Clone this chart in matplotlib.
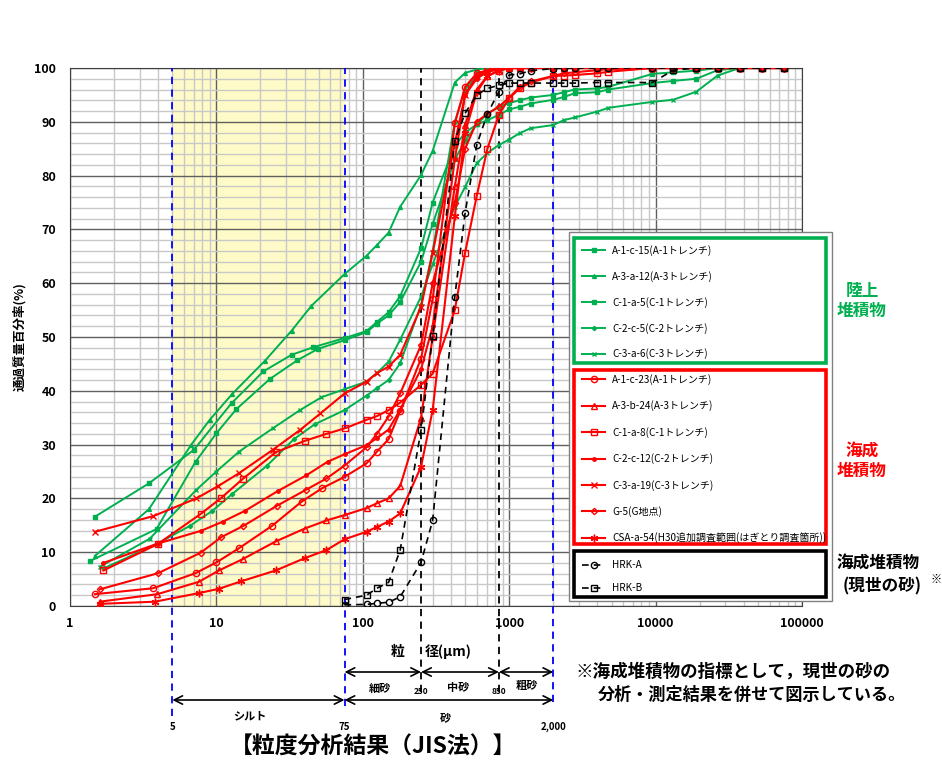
import matplotlib.pyplot as plt
from matplotlib.patches import Rectangle
from matplotlib.ticker import MultipleLocator, LogLocator, NullFormatter

plt.rcParams['font.family'] = ['Noto Sans CJK JP', 'DejaVu Sans']

# ---------------- data (grain size in micrometres, passing %) ----------------
sieve = [75, 106, 125, 150, 180, 250, 300, 425, 500, 600, 710, 850, 1000,
         1180, 1400, 2000, 2360, 2800, 4000, 4750, 9500, 13200, 19000,
         26500, 37500, 53000, 75000]

# green : land deposits
a1c15_hx = [1.48, 3.46, 7.0, 12.7, 20.9, 32.7, 45.9]
a1c15_hy = [16.6, 22.8, 29.0, 37.7, 43.6, 46.7, 48.1]
a1c15_sy = [49.8, 51.1, 52.8, 54.6, 57.6, 66.5, 75.0, 85.5, 88.0, 89.5, 90.3, 91.3,
            92.3, 92.8, 93.4, 94.1, 94.6, 95.3, 95.5, 96.0, 97.2, 97.6, 98.0, 99.6,
            100, 100, 100]

a3a12_hx = [1.48, 3.46, 6.7, 9.0, 12.8, 21.5, 32.7, 44.6]
a3a12_hy = [9.3, 18.0, 29.9, 34.6, 39.4, 45.6, 51.2, 55.8]
a3a12_sy = [61.7, 65.1, 67.1, 69.4, 74.2, 80.1, 84.6, 97.3, 99.1, 99.7, 100, 100,
            100, 100, 100, 100, 100, 100, 100, 100, 100, 100, 100, 100, 100, 100, 100]

c1a5_hx = [1.38, 3.9, 7.2, 10.0, 13.7, 23.2, 35.8, 49.5]
c1a5_hy = [8.4, 14.3, 26.8, 32.1, 36.6, 42.2, 45.7, 47.8]
c1a5_sy = [49.4, 50.9, 52.5, 54.0, 56.5, 64.0, 71.0, 83.0, 86.5, 89.5, 91.5, 92.8,
           93.5, 94.0, 94.5, 95.0, 95.5, 96.0, 96.2, 96.5, 98.9, 99.2, 99.5, 100,
           100, 100, 100]

c2c5_hx = [1.7, 3.9, 6.6, 9.4, 12.8, 22.0, 33.8, 47.1]
c2c5_hy = [7.0, 11.5, 14.9, 17.7, 20.8, 26.0, 31.0, 33.8]
c2c5_sy = [36.4, 39.1, 40.5, 42.0, 45.1, 56.0, 66.0, 90.0, 96.0, 98.6, 99.5, 100,
           100, 100, 100, 100, 100, 100, 100, 100, 100, 100, 100, 100, 100, 100, 100]

c3a6_hx = [1.6, 3.5, 7.3, 10.0, 14.3, 24.2, 37.2, 52.2]
c3a6_hy = [7.3, 12.5, 21.6, 25.0, 28.7, 33.0, 36.4, 38.8]
c3a6_sy = [40.3, 41.7, 43.3, 45.4, 49.5, 57.5, 63.5, 74.2, 77.9, 82.3, 84.2, 85.7,
           86.7, 87.9, 88.8, 89.4, 90.3, 90.8, 91.9, 92.6, 93.7, 94.1, 95.6, 98.6,
           100, 100, 100]

# red : marine deposits
a1c23_hx = [1.48, 3.7, 7.2, 10.0, 14.2, 24.0, 38.2, 52.8]
a1c23_hy = [2.2, 3.3, 6.1, 8.1, 10.7, 14.9, 19.4, 21.9]
a1c23_sy = [24.0, 26.5, 28.7, 31.0, 36.2, 46.0, 57.0, 89.7, 96.5, 99.0, 99.6, 100,
            100, 100, 100, 100, 100, 100, 100, 100, 100, 100, 100, 100, 100, 100, 100]

a3b24_hx = [1.6, 3.95, 7.6, 10.4, 15.1, 25.4, 40.2, 56.5]
a3b24_hy = [0.8, 2.2, 4.5, 6.6, 8.7, 12.0, 14.4, 15.9]
a3b24_sy = [16.9, 18.2, 19.1, 20.0, 22.3, 35.0, 50.0, 78.0, 89.4, 96.0, 98.5, 99.5,
            100, 100, 100, 100, 100, 100, 100, 100, 100, 100, 100, 100, 100, 100, 100]

c1a8_hx = [1.69, 3.97, 7.8, 10.8, 15.1, 25.5, 40.2, 56.5]
c1a8_hy = [6.6, 11.5, 17.1, 20.1, 23.6, 28.6, 30.7, 32.0]
c1a8_sy = [33.0, 34.6, 35.3, 36.4, 37.8, 41.1, 43.2, 55.0, 65.7, 76.2, 85.0, 91.3,
           94.4, 96.2, 97.3, 98.5, 98.6, 98.7, 99.0, 99.3, 100, 100, 100, 100, 100,
           100, 100]

c2c12_hx = [1.69, 3.97, 7.9, 11.1, 15.7, 26.4, 41.2, 57.4]
c2c12_hy = [8.0, 11.6, 14.0, 15.7, 17.7, 21.4, 24.3, 26.8]
c2c12_sy = [28.2, 29.9, 31.2, 32.8, 36.5, 44.0, 52.0, 83.0, 95.0, 98.0, 99.3, 99.7,
            100, 100, 100, 100, 100, 100, 100, 100, 100, 100, 100, 100, 100, 100, 100]

c3a19_hx = [1.48, 3.7, 7.3, 10.3, 14.3, 24.2, 37.2, 51.4]
c3a19_hy = [13.8, 16.7, 20.0, 22.3, 24.7, 29.0, 32.7, 35.8]
c3a19_sy = [39.5, 41.7, 43.3, 44.5, 46.7, 55.6, 65.6, 86.0, 95.0, 98.5, 99.5, 100,
            100, 100, 100, 100, 100, 100, 100, 100, 100, 100, 100, 100, 100, 100, 100]

g5_hx = [1.6, 4.0, 7.8, 10.8, 15.3, 25.8, 40.9, 56.5]
g5_hy = [3.1, 6.1, 9.9, 12.8, 14.9, 18.6, 21.6, 23.7]
g5_sy = [26.1, 29.5, 32.0, 35.2, 39.5, 48.5, 60.0, 75.0, 85.0, 90.0, 91.5, 92.8,
         94.5, 96.5, 97.5, 98.5, 99.0, 99.2, 99.6, 99.8, 100, 100, 100, 100, 100,
         100, 100]

csa54_hx = [1.6, 3.8, 7.6, 10.4, 14.8, 25.4, 40.2, 56.5]
csa54_hy = [0.4, 0.8, 2.4, 3.2, 4.6, 6.6, 8.9, 10.4]
csa54_sy = [12.4, 13.8, 14.7, 15.7, 17.2, 25.9, 36.4, 72.4, 88.0, 95.5, 98.5, 99.5,
            100, 100, 100, 100, 100, 100, 100, 100, 100, 100, 100, 100, 100, 100, 100]

# black : present-day sand (sieve only)
hrka_sy = [0.2, 0.3, 0.5, 0.7, 1.7, 8.1, 15.9, 57.5, 73.1, 85.7, 91.5, 95.6, 98.7,
           98.9, 99.5, 99.9, 100, 100, 100, 100, 100, 100, 100, 100, 100, 100, 100]
hrkb_sy = [1.2, 2.0, 3.3, 4.4, 10.4, 32.7, 50.1, 86.5, 91.6, 95.0, 96.2, 96.8, 97.2,
           97.2, 97.2, 97.2, 97.2, 97.2, 97.3, 97.3, 97.3, 99.6, 100, 100, 100, 100, 100]

xticks = [1, 10, 100, 1000, 10000, 100000]
xticklabels = ['1', '10', '100', '1000', '10000', '100000']

GREEN = '#00b050'
RED = '#ff0000'

# ---------------- figure ----------------
W, H = 942, 760
fig = plt.figure(figsize=(W / 100, H / 100), dpi=100)
ax = fig.add_axes([70 / W, 1 - 606 / H, 732 / W, 538 / H])

ax.set_xscale('log')
ax.set_xlim(1, 100000)
ax.set_ylim(0, 100)

# silt band
ax.axvspan(5, 75, color='#fffbc8', zorder=0.2, lw=0)

ax.set_axisbelow(True)
ax.xaxis.set_minor_locator(LogLocator(base=10, subs=range(2, 10), numticks=20))
ax.xaxis.set_minor_formatter(NullFormatter())
ax.yaxis.set_major_locator(MultipleLocator(10))
ax.yaxis.set_minor_locator(MultipleLocator(2))
ax.grid(which='minor', color='#c8c8c8', lw=1.0)
ax.grid(which='major', color='#606060', lw=1.0)
ax.set_xticks(xticks)
ax.set_xticklabels(xticklabels)
ax.tick_params(which='both', length=0)
ax.tick_params(axis='x', pad=8, labelsize=9)
ax.tick_params(axis='y', pad=10, labelsize=9)
for t in ax.get_xticklabels() + ax.get_yticklabels():
    t.set_fontweight('bold')
for s in ax.spines.values():
    s.set_color('#404040')

ax.set_ylabel('通過質量百分率(%)', fontsize=9, fontweight='bold', labelpad=6)

# boundary lines
for xv, y0 in [(5, -0.205), (75, -0.185), (2000, -0.178)]:
    ax.axvline(xv, ymin=y0, ymax=1, color='#0000ff', lw=1.3,
               ls=(0, (4, 3)), clip_on=False, zorder=3)
for xv in [250, 850]:
    ax.axvline(xv, ymin=-0.16, ymax=1, color='black', lw=1.3,
               ls=(0, (4, 3)), clip_on=False, zorder=3)


def curve(hx, hy, sy):
    return list(hx) + sieve, list(hy) + list(sy)


green_series = [
    ('A-1-c-15(A-1トレンチ)', a1c15_hx, a1c15_hy, a1c15_sy, 's', 2.2),
    ('A-3-a-12(A-3トレンチ)', a3a12_hx, a3a12_hy, a3a12_sy, '^', 2.8),
    ('C-1-a-5(C-1トレンチ)', c1a5_hx, c1a5_hy, c1a5_sy, 's', 2.5),
    ('C-2-c-5(C-2トレンチ)', c2c5_hx, c2c5_hy, c2c5_sy, 'D', 2.2),
    ('C-3-a-6(C-3トレンチ)', c3a6_hx, c3a6_hy, c3a6_sy, 'x', 3.5),
]
red_series = [
    ('A-1-c-23(A-1トレンチ)', a1c23_hx, a1c23_hy, a1c23_sy, 'o', 4.5),
    ('A-3-b-24(A-3トレンチ)', a3b24_hx, a3b24_hy, a3b24_sy, '^', 4.5),
    ('C-1-a-8(C-1トレンチ)', c1a8_hx, c1a8_hy, c1a8_sy, 's', 4.5),
    ('C-2-c-12(C-2トレンチ)', c2c12_hx, c2c12_hy, c2c12_sy, 'o', 2.5),
    ('C-3-a-19(C-3トレンチ)', c3a19_hx, c3a19_hy, c3a19_sy, 'x', 5),
    ('G-5(G地点)', g5_hx, g5_hy, g5_sy, 'D', 3.2),
    ('CSA-a-54(H30追加調査範囲(はぎとり調査箇所))', csa54_hx, csa54_hy, csa54_sy, (6, 2, 0), 5.5),
]

green_handles = []
for lab, hx, hy, sy, mk, ms in green_series:
    x, y = curve(hx, hy, sy)
    ln, = ax.plot(x, y, color=GREEN, lw=1.4, marker=mk, ms=ms, mfc=GREEN,
                  mec=GREEN, mew=1.0, label=lab, zorder=4)
    green_handles.append(ln)

red_handles = []
for lab, hx, hy, sy, mk, ms in red_series:
    x, y = curve(hx, hy, sy)
    filled = mk == 'o' and ms < 3
    ln, = ax.plot(x, y, color=RED, lw=1.5, marker=mk, ms=ms,
                  mfc=RED if filled else 'none', mec=RED, mew=1.0,
                  label=lab, zorder=5)
    red_handles.append(ln)

black_handles = []
for lab, sy, mk in [('HRK-A', hrka_sy, 'o'), ('HRK-B', hrkb_sy, 's')]:
    ln, = ax.plot(sieve, sy, color='black', lw=1.2, ls=(0, (4, 3)), marker=mk,
                  ms=4.5, mfc='none', mec='black', mew=1.0, label=lab, zorder=6)
    black_handles.append(ln)

# ---------------- legend blocks ----------------
fig.patches.append(Rectangle((569 / W, 1 - 601 / H), (832 - 569) / W, (601 - 232) / H,
                             transform=fig.transFigure, facecolor='white',
                             edgecolor='#808080', lw=1.0, zorder=2))


def block(handles, top, bottom, first, color, spacing):
    fig.patches.append(Rectangle((574 / W, 1 - bottom / H), (826 - 574) / W,
                                 (bottom - top) / H, transform=fig.transFigure,
                                 facecolor='none', edgecolor=color, lw=2.6, zorder=3))
    lg = fig.legend(handles=handles, loc='upper left',
                    bbox_to_anchor=(582 / W, 1 - (first - 5) / H),
                    fontsize=7.2, frameon=False, borderaxespad=0, borderpad=0,
                    handlelength=2.3, handletextpad=0.7, labelspacing=spacing)
    lg.set_zorder(6)
    return lg


block(green_handles, 238, 363, 250, GREEN, 1.495)
block(red_handles, 370, 544, 379, RED, 1.55)
block(black_handles, 551, 597, 565, 'black', 1.3)

fig.text(862 / W, 1 - 301 / H, '陸上\n堆積物', color=GREEN, fontsize=12,
         fontweight='bold', ha='center', va='center', linespacing=1.2)
fig.text(862 / W, 1 - 461 / H, '海成\n堆積物', color=RED, fontsize=12,
         fontweight='bold', ha='center', va='center', linespacing=1.2)
fig.text(878 / W, 1 - 563 / H, '海成堆積物', fontsize=12, fontweight='bold',
         ha='center', va='center')
fig.text(882 / W, 1 - 586 / H, '(現世の砂)', fontsize=12, fontweight='bold',
         ha='center', va='center')
fig.text(936 / W, 1 - 579 / H, '※', fontsize=8, fontweight='bold',
         ha='center', va='center')

# ---------------- size-class annotations under the axis ----------------
def frac(py):
    return (606 - py) / 538


def arrow(x0, x1, py):
    ax.annotate('', xy=(x1, frac(py)), xytext=(x0, frac(py)),
                xycoords=('data', 'axes fraction'), textcoords=('data', 'axes fraction'),
                arrowprops=dict(arrowstyle='<->,head_length=0.6,head_width=0.3',
                                color='black', lw=1.2, shrinkA=0, shrinkB=0),
                annotation_clip=False)


arrow(75, 250, 672)
arrow(250, 850, 672)
arrow(850, 2000, 672)
arrow(5, 75, 700)
arrow(75, 2000, 700)


def label(x, py, s, size=9, **kw):
    ax.text(x, frac(py), s, transform=ax.get_xaxis_transform(), fontsize=size,
            fontweight='bold', ha='center', va='center', clip_on=False, **kw)


label(172, 652, '粒', 10)
label(380, 652, '径(μm)', 10)
label(131, 688, '細砂', 8)
label(445, 687, '中砂', 8)
label(1320, 685, '粗砂', 8)
label(250, 691, '250', 6)
label(850, 691, '850', 6)
label(17, 716, 'シルト', 8)
label(365, 718, '砂', 8)
label(5, 727, '5', 7)
label(75, 727, '75', 7)
label(2000, 727, '2,000', 7)

fig.text(373 / W, 1 - 747 / H, '【粒度分析結果（JIS法）】', fontsize=16.5,
         fontweight='bold', ha='center', va='center')
fig.text(575 / W, 1 - 672 / H, '※海成堆積物の指標として，現世の砂の', fontsize=12.6,
         fontweight='bold', ha='left', va='center')
fig.text(598 / W, 1 - 695 / H, '分析・測定結果を併せて図示している。', fontsize=12.3,
         fontweight='bold', ha='left', va='center')

fig.savefig('out.png', dpi=100)
